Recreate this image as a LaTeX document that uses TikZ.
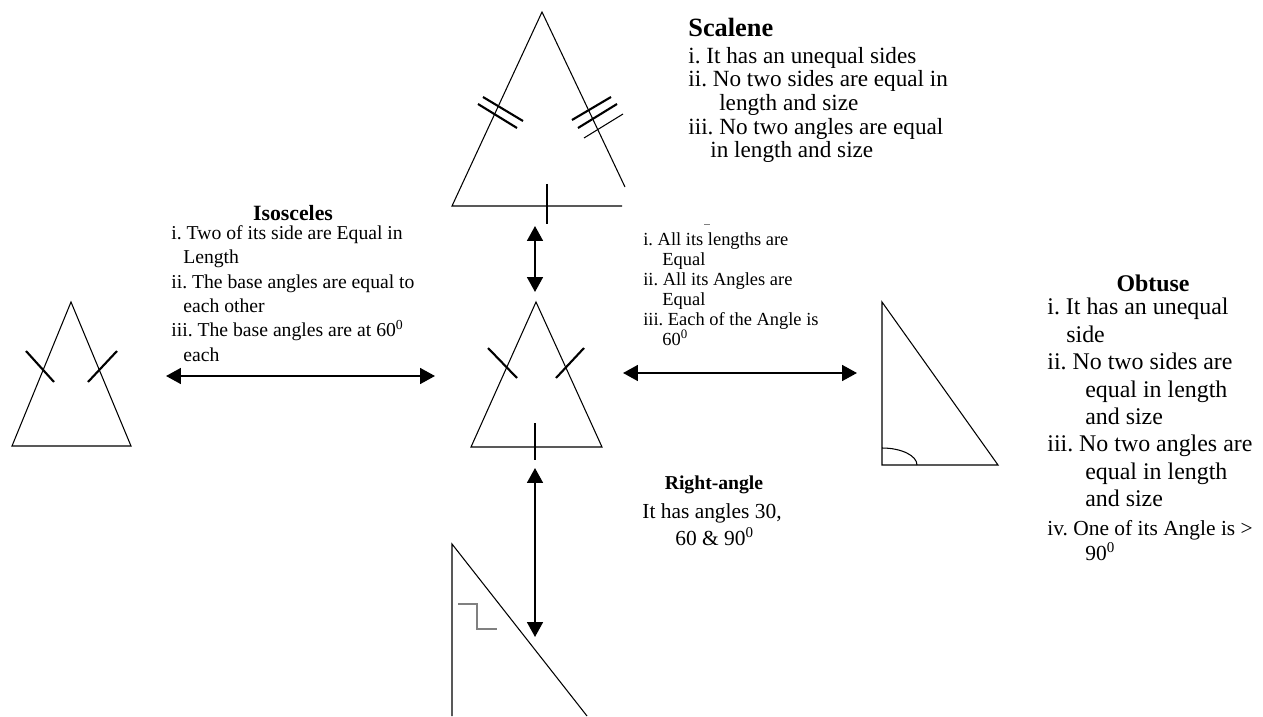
\documentclass[tikz,border=0pt]{standalone}
\usepackage{fontspec}
\setmainfont{Liberation Serif}
\usetikzlibrary{arrows.meta}
\frenchspacing
\tikzset{
    >={Triangle[length=8.5pt,width=9pt]},
    % Lines
    side/.style={line width=0.6pt},
    tick/.style={line width=1.2pt},
    square/.style={line width=0.6pt, gray},
    link/.style={<->, line width=1.2pt},
    % Text
    txt/.style={inner sep=0pt, anchor=north west, align=left},
    head/.style={inner sep=0pt, anchor=north}
}

\begin{document}
\begin{tikzpicture}[x=0.02cm, y=-0.02cm]
\useasboundingbox (0,0) rectangle (1263,716);

% Scalene
\draw[side] (625,187) -- (542,12) -- (452,206) -- (622,206);
\draw[tick] (483,97) -- (523,121) (478,104) -- (517,128);
\draw[tick] (572,120) -- (611,97) (578,128) -- (617,104);
\draw[side] (584,138) -- (623,114);
\draw[tick] (547,184) -- (547,224);

% Equilateral
\draw[side] (536,302) -- (471,447) -- (602,447) -- cycle;
\draw[tick] (488,348) -- (517,378) (584,348) -- (556,378);
\draw[tick] (535,423) -- (535,460);

% Isosceles
\draw[side] (71,302) -- (12,446) -- (131,446) -- cycle;
\draw[tick] (26,351) -- (54,382) (117,351) -- (88,382);

% Obtuse
\draw[side] (882,302) -- (882,465) -- (998,465) -- cycle;
\draw[side] (882,448) arc[start angle=-90, end angle=0, x radius=35, y radius=17];

% Right-angle
\draw[side] (452,716) -- (452,544) -- (587,716);
\draw[square] (458,604) -- (477,604) -- (477,629) -- (497,629);

% Arrow ends
\coordinate (scaBase) at (535,226);
\coordinate (equApex) at (535,292);
\coordinate (equFoot) at (535,468);
\coordinate (rigTop) at (535,637);
\coordinate (isoEnd) at (166,376);
\coordinate (equLeft) at (435,376);
\coordinate (equRight) at (623,373);
\coordinate (obtEnd) at (857,373);

\draw[link] (scaBase) -- (equApex);
\draw[link] (equFoot) -- (rigTop);
\draw[link] (isoEnd) -- (equLeft);
\draw[link] (equRight) -- (obtEnd);

% Texts
\node[txt, font=\fontsize{15}{17}\selectfont\bfseries] (scaHead) at (688,18) {Scalene};
\node[txt, font=\fontsize{13.2}{13.4}\selectfont] (scaText) at (688,47)
  {i. It has an unequal sides\\ii. No two sides are equal in\\\hspace*{17.6pt}length and size\\iii. No two angles are equal\\\hspace*{12.5pt}in length and size};

\node[head, font=\fontsize{12.4}{14}\selectfont\bfseries] (isoHead) at (293,205) {Isosceles};
\node[txt, font=\fontsize{11.2}{13.9}\selectfont] (isoText) at (171,225)
  {i. Two of its side are Equal in\\\hspace*{6.8pt}Length\\ii. The base angles are equal to\\\hspace*{6.8pt}each other\\iii. The base angles are at 60\textsuperscript{0}\\\hspace*{6.8pt}each};

\draw[gray, line width=0.4pt] (704,224) -- (710,224);
\node[txt, font=\fontsize{10.5}{11.4}\selectfont] (equText) at (643,232)
  {i. All its lengths are\\\hspace*{10.8pt}Equal\\ii. All its Angles are\\\hspace*{10.8pt}Equal\\iii. Each of the Angle is\\\hspace*{10.8pt}60\textsuperscript{0}};

\node[head, font=\fontsize{13.6}{15.6}\selectfont\bfseries] (obtHead) at (1153,275) {Obtuse};
\node[txt, font=\fontsize{13.6}{15.6}\selectfont] (obtText) at (1047,298)
  {i. It has an unequal\\\hspace*{10.8pt}side\\ii. No two sides are\\\hspace*{21.6pt}equal in length\\\hspace*{21.6pt}and size\\iii. No two angles are\\\hspace*{21.6pt}equal in length\\\hspace*{21.6pt}and size};
\node[txt, font=\fontsize{12.2}{14.2}\selectfont] (obtLast) at (1047,520)
  {iv. One of its Angle is >\\\hspace*{21.6pt}90\textsuperscript{0}};

\node[head, font=\fontsize{11.2}{13}\selectfont\bfseries] (rigHead) at (714,475) {Right-angle};
\node[txt, font=\fontsize{12.2}{15.4}\selectfont] (rigText) at (642,503)
  {It has angles 30,\\\hspace*{18.8pt}60 \& 90\textsuperscript{0}};

\end{tikzpicture}
\end{document}
